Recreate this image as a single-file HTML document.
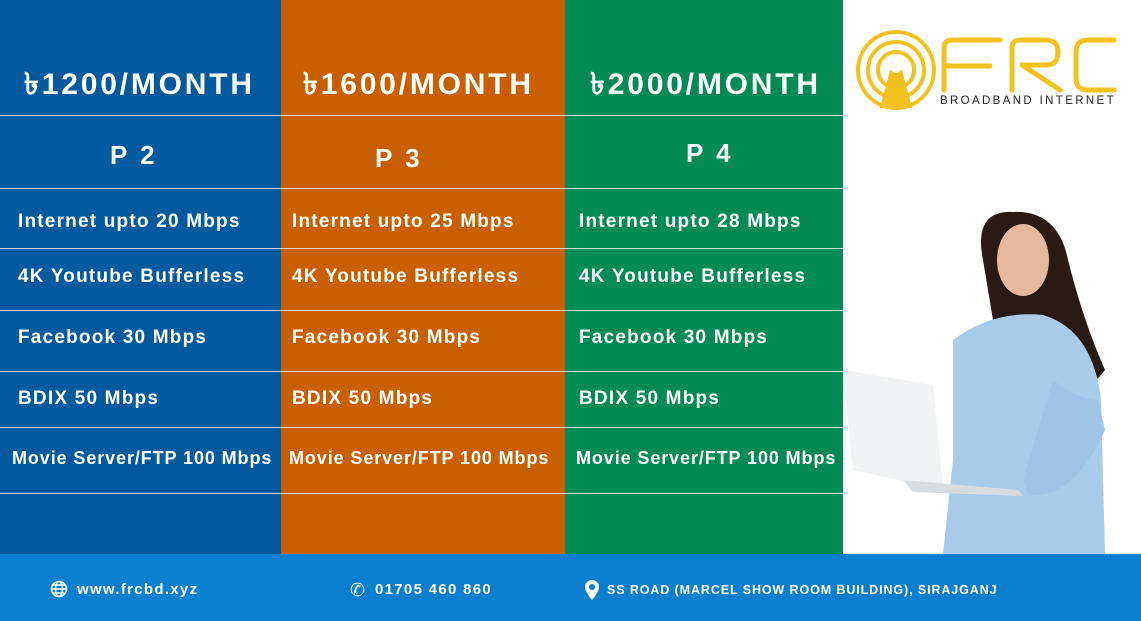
<!DOCTYPE html>
<html><head><meta charset="utf-8"><style>
*{margin:0;padding:0;box-sizing:border-box}
body{width:1141px;height:621px;overflow:hidden;position:relative;background:#fff;font-family:"Liberation Sans","DejaVu Sans",sans-serif;color:#fff}
.col{position:absolute;top:0;height:554px}
.t{position:absolute;font-weight:bold;white-space:nowrap}
.h{font-size:30px;letter-spacing:2.8px}
.p{font-size:26px;letter-spacing:3px}
.f{font-size:19px;letter-spacing:1.2px}
.m{font-size:18px;letter-spacing:.9px}
.ln{position:absolute;height:1px;background:rgba(255,255,255,.75)}
.foot{position:absolute;left:0;top:554px;width:1141px;height:67px;background:#0a7fcf}
.ft{position:absolute;top:581px;font-size:15px;font-weight:bold;letter-spacing:1.3px}
</style></head><body>
<div class="col" style="left:0;width:281px;background:#035a9e"></div>
<div class="col" style="left:281px;width:284px;background:#c95f00"></div>
<div class="col" style="left:565px;width:278px;background:#038a55"></div>

<div class="ln" style="left:0;width:843px;top:115px"></div>
<div class="ln" style="left:0;width:843px;top:188px"></div>
<div class="ln" style="left:0;width:843px;top:248px"></div>
<div class="ln" style="left:0;width:843px;top:310px"></div>
<div class="ln" style="left:0;width:843px;top:371px"></div>
<div class="ln" style="left:0;width:843px;top:427px"></div>
<div class="ln" style="left:0;width:843px;top:493px"></div>

<div class="t h" style="left:24px;top:60px">৳1200/MONTH</div>
<div class="t h" style="left:303px;top:60px">৳1600/MONTH</div>
<div class="t h" style="left:590px;top:60px">৳2000/MONTH</div>
<div class="t p" style="left:110px;top:140px">P 2</div>
<div class="t p" style="left:375px;top:143px">P 3</div>
<div class="t p" style="left:686px;top:138px">P 4</div>

<div class="t f" style="left:18px;top:211px">Internet upto 20 Mbps</div>
<div class="t f" style="left:18px;top:266px">4K Youtube Bufferless</div>
<div class="t f" style="left:18px;top:327px">Facebook 30 Mbps</div>
<div class="t f" style="left:18px;top:388px">BDIX 50 Mbps</div>
<div class="t m" style="left:12px;top:448px">Movie Server/FTP 100 Mbps</div>

<div class="t f" style="left:292px;top:211px">Internet upto 25 Mbps</div>
<div class="t f" style="left:292px;top:266px">4K Youtube Bufferless</div>
<div class="t f" style="left:292px;top:327px">Facebook 30 Mbps</div>
<div class="t f" style="left:292px;top:388px">BDIX 50 Mbps</div>
<div class="t m" style="left:289px;top:448px">Movie Server/FTP 100 Mbps</div>

<div class="t f" style="left:579px;top:211px">Internet upto 28 Mbps</div>
<div class="t f" style="left:579px;top:266px">4K Youtube Bufferless</div>
<div class="t f" style="left:579px;top:327px">Facebook 30 Mbps</div>
<div class="t f" style="left:579px;top:388px">BDIX 50 Mbps</div>
<div class="t m" style="left:576px;top:448px">Movie Server/FTP 100 Mbps</div>

<!-- logo -->
<svg style="position:absolute;left:850px;top:28px" width="280" height="84" viewBox="0 0 280 84">
<g fill="none" stroke="#f4c220" stroke-width="4">
<circle cx="46" cy="42" r="38"/><circle cx="46" cy="42" r="28"/><circle cx="46" cy="42" r="18"/>
</g>
<path d="M40 42 L30 80 L62 80 L52 42 Z" fill="#f4c220"/>
<circle cx="46" cy="40" r="5" fill="#fff"/>
<g fill="none" stroke="#f4c220" stroke-width="5" stroke-linecap="round" stroke-linejoin="round">
<path d="M94 62 V20 Q94 12 102 12 H150 M94 38 H140"/>
<path d="M162 62 V20 Q162 12 170 12 H196 Q208 12 208 24 Q208 37 196 37 H172 L210 62"/>
<path d="M264 12 H238 Q226 12 226 24 V50 Q226 62 238 62 H264"/>
</g>
<text x="90" y="76" font-family="Liberation Sans,sans-serif" font-size="11.5" fill="#222" letter-spacing="2.4" textLength="176">BROADBAND INTERNET</text>
</svg>

<!-- woman approximation -->
<svg style="position:absolute;left:843px;top:200px" width="298" height="354" viewBox="0 0 298 354">
<path d="M140 60 Q130 10 170 12 Q215 10 225 60 Q240 120 262 170 Q230 210 210 200 Q200 150 150 120 Z" fill="#2a1a14"/>
<ellipse cx="180" cy="60" rx="26" ry="36" fill="#e8b89c"/>
<path d="M110 140 Q150 110 200 115 Q250 130 258 200 L262 354 L100 354 L110 260 Z" fill="#a9cbea"/>
<path d="M0 170 L90 185 L100 290 L10 270 Z" fill="#f0f2f4"/>
<path d="M60 280 L175 290 L180 296 L70 292 Z" fill="#d8dcdf"/>
<path d="M210 180 Q235 200 255 200 L262 230 Q230 300 185 295 L180 280 Z" fill="#9fc4e6"/>
</svg>

<div class="foot"></div>
<svg style="position:absolute;left:50px;top:580px" width="18" height="18" viewBox="0 0 18 18" fill="none" stroke="#fff" stroke-width="1.5"><circle cx="9" cy="9" r="7.5"/><ellipse cx="9" cy="9" rx="3.5" ry="7.5"/><path d="M1.5 9H16.5M3 5H15M3 13H15"/></svg>
<div class="ft" style="left:77px">www.frcbd.xyz</div>
<div style="position:absolute;left:350px;top:580px;font-size:18px">&#9990;</div>
<div class="ft" style="left:375px">01705 460 860</div>
<svg style="position:absolute;left:584px;top:579px" width="16" height="22" viewBox="0 0 16 22"><path d="M8 1a7 7 0 0 0-7 7c0 5 7 13 7 13s7-8 7-13a7 7 0 0 0-7-7z" fill="#fff"/><circle cx="8" cy="8" r="3" fill="#0a7fcf"/></svg>
<div class="ft" style="left:607px;font-size:12.5px;letter-spacing:.9px;top:583px">SS ROAD (MARCEL SHOW ROOM BUILDING), SIRAJGANJ</div>
</body></html>
